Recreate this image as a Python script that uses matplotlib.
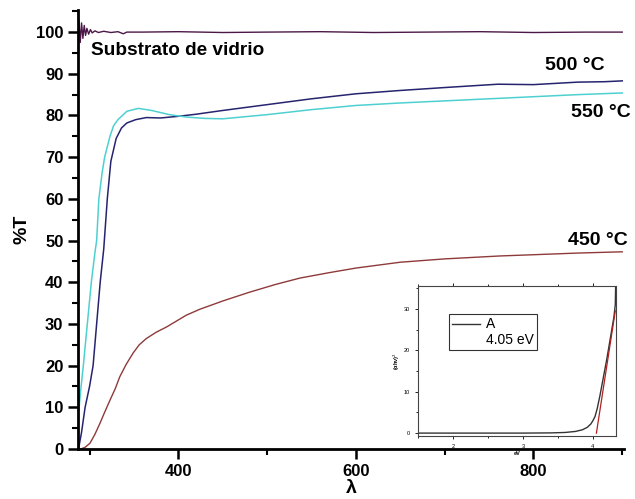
import matplotlib
matplotlib.use("Agg")
import matplotlib.pyplot as plt
from matplotlib.ticker import MultipleLocator

plt.rcParams['font.family'] = ['Liberation Sans', 'DejaVu Sans']

# --- data ---
# glass substrate
sub_x = [288, 289.5, 291, 292.5, 294, 295.5, 297, 299, 301, 303, 306, 310, 316, 324,
         332, 338, 342, 360, 400, 450, 500, 560, 620, 680, 740, 800, 860, 900]
sub_y = [103.0, 97.5, 102.2, 98.5, 101.6, 99.2, 100.9, 99.5, 100.6, 99.8, 100.3, 99.9,
         100.2, 99.9, 100.1, 99.6, 100.0, 100.0, 100.1, 99.9, 100.0, 100.1, 99.9,
         100.0, 100.1, 99.9, 100.0, 100.0]

# 500 C film
t500_x = [288, 291, 295, 300, 304, 308, 312, 316, 320, 324, 330, 336, 342, 352, 364,
          380, 400, 420, 450, 500, 550, 600, 650, 700, 760, 800, 850, 880, 900]
t500_y = [0.5, 4.0, 10.0, 15.0, 20.0, 30.0, 40.0, 48.0, 60.0, 69.0, 74.5, 77.0, 78.2,
          79.0, 79.5, 79.4, 79.8, 80.3, 81.2, 82.6, 84.0, 85.2, 86.0, 86.7, 87.5, 87.4,
          88.0, 88.1, 88.3]

# 550 C film
t550_x = [288, 290, 293, 297.5, 302, 306, 308, 310.5, 314, 317, 323, 327, 332, 342,
          355, 370, 390, 410, 430, 450, 500, 550, 600, 650, 700, 760, 800, 850, 900]
t550_y = [9.4, 14.0, 20.0, 30.0, 40.0, 47.0, 50.0, 60.0, 66.0, 70.0, 75.0, 77.5, 79.0,
          81.0, 81.7, 81.2, 80.2, 79.6, 79.3, 79.2, 80.2, 81.4, 82.4, 83.0, 83.5,
          84.1, 84.5, 85.0, 85.4]

# 450 C film
t450_x = [290, 295, 300.5, 306, 311.8, 317, 323, 329, 334, 341, 349, 356, 364, 375,
          387, 398, 409, 424, 450, 480, 510, 537, 570, 600, 650, 700, 762, 800, 850, 900]
t450_y = [0.0, 0.4, 1.4, 3.5, 6.2, 8.8, 11.7, 14.5, 17.3, 20.2, 23.0, 25.0, 26.5,
          28.0, 29.3, 30.7, 32.1, 33.5, 35.5, 37.6, 39.5, 41.0, 42.3, 43.4, 44.8,
          45.6, 46.3, 46.6, 47.0, 47.3]

# inset: (alpha h nu)^2 vs photon energy
ins_x = [1.5, 2.0, 2.5, 3.0, 3.4, 3.6, 3.75, 3.85, 3.92, 3.97, 4.0, 4.03, 4.06, 4.1,
         4.15, 4.2, 4.25, 4.3, 4.32, 4.325]
ins_y = [0.0, 0.0, 0.0, 0.0, 0.05, 0.15, 0.4, 0.8, 1.4, 2.2, 3.0, 4.0, 5.8, 9.0,
         13.5, 18.0, 23.0, 28.0, 31.0, 35.5]
fit_x = [4.05, 4.32]
fit_y = [0.0, 29.5]

fig = plt.figure(figsize=(6.35, 4.99), dpi=100)
ax = fig.add_axes([78/635, 1-449/499, 546/635, 439/499])

ax.plot(sub_x, sub_y, color='#4b1848', lw=1.0)
ax.plot(t500_x, t500_y, color='#26246f', lw=1.1)
ax.plot(t550_x, t550_y, color='#4fd0d0', lw=1.1)
ax.plot(t450_x, t450_y, color='#8e3a3a', lw=1.0)

ax.set_xlim(287, 902)
ax.set_ylim(0, 105.3)
ax.xaxis.set_major_locator(MultipleLocator(200))
ax.xaxis.set_minor_locator(MultipleLocator(100))
ax.yaxis.set_major_locator(MultipleLocator(10))
ax.yaxis.set_minor_locator(MultipleLocator(5))
ax.spines['top'].set_visible(False)
ax.spines['right'].set_visible(False)
ax.spines['left'].set_linewidth(2)
ax.spines['bottom'].set_linewidth(2)
ax.tick_params(which='major', length=7, width=1.8, labelsize=12)
ax.tick_params(which='minor', length=4, width=1.5)
for lab in ax.get_xticklabels() + ax.get_yticklabels():
    lab.set_fontweight('bold')

ax.set_xlabel('λ', fontsize=14, fontweight='bold', labelpad=1)
ax.set_ylabel('%T', fontsize=14, fontweight='bold', labelpad=4)

ax.text(302, 95.7, 'Substrato de vidrio', fontsize=13.7, fontweight='bold', va='center')
ax.text(880, 92.0, '500 °C', fontsize=14, fontweight='bold', ha='right', va='center')
ax.text(910, 80.7, '550 °C', fontsize=14, fontweight='bold', ha='right', va='center',
        clip_on=False)
ax.text(906, 50.1, '450 °C', fontsize=14, fontweight='bold', ha='right', va='center',
        clip_on=False)

# inset
ins = fig.add_axes([418/635, 1-436/499, 198/635, 150/499])
ins.plot(ins_x, ins_y, color='#333333', lw=1.0, label='A')
ins.plot(fit_x, fit_y, color='#b02020', lw=0.9)
ins.plot([], [], ' ', label='4.05 eV')
ins.set_xlim(1.5, 4.33)
ins.set_ylim(-0.7, 35.5)
ins.xaxis.set_major_locator(MultipleLocator(1))
ins.xaxis.set_minor_locator(MultipleLocator(0.5))
ins.yaxis.set_major_locator(MultipleLocator(10))
ins.yaxis.set_minor_locator(MultipleLocator(5))
ins.tick_params(which='both', labelsize=4, width=0.6, top=True, right=False)
ins.tick_params(which='major', length=2.5)
ins.tick_params(which='minor', length=1.5)
for sp in ins.spines.values():
    sp.set_linewidth(0.8)
    sp.set_color('#444444')
ins.set_xlabel('eV', fontsize=4, fontweight='bold', labelpad=1)
ins.set_ylabel('(αhν)$^2$', fontsize=4, fontweight='bold', labelpad=1)
leg = ins.legend(loc='upper left', bbox_to_anchor=(0.12, 0.86), fontsize=10,
                 frameon=True, fancybox=False, edgecolor='black', handlelength=2.0,
                 borderpad=0.25, labelspacing=0.1, handletextpad=0.4)
leg.get_frame().set_linewidth(0.8)

fig.savefig('out.png', dpi=100)
